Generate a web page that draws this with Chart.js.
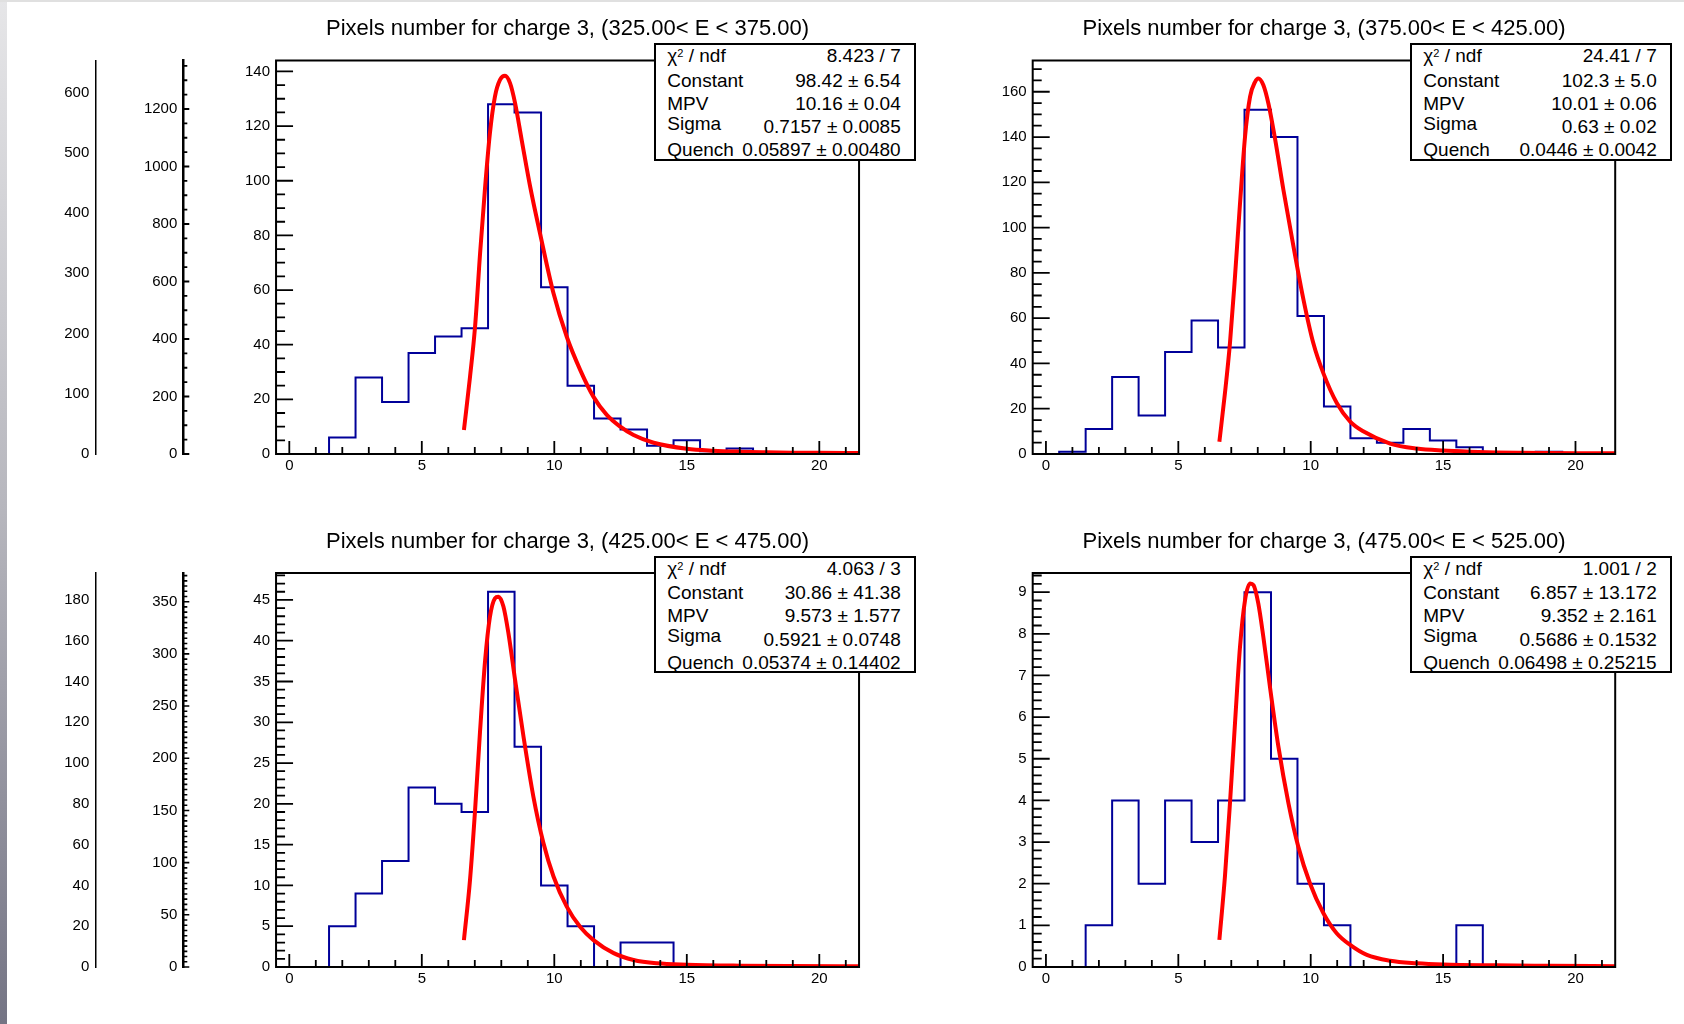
<!DOCTYPE html>
<html>
<head>
<meta charset="utf-8">
<script src="https://cdn.jsdelivr.net/npm/chart.js@4.4.1/dist/chart.umd.min.js"></script>
<style>
html,body{margin:0;padding:0;background:#fff;width:1684px;height:1024px;overflow:hidden;font-family:"Liberation Sans",Arial,sans-serif;color:#000;}
canvas{position:absolute;}
.strip-left{position:absolute;left:0;top:0;width:7px;height:1024px;background:linear-gradient(#e6e6e8,#b6b6bd 50%,#747484);z-index:3;}
.strip-top{position:absolute;left:0;top:0;width:1684px;height:2px;background:#e0e0e0;z-index:3;}
.title{position:absolute;font-size:22px;line-height:22px;white-space:nowrap;transform:translateX(-50%);z-index:4;}
.stats{position:absolute;box-sizing:border-box;width:262px;height:117.4px;border:2px solid #000;background:#fff;z-index:5;font-size:19px;}
.stats div{position:absolute;line-height:19px;white-space:nowrap;}
.stats .l{left:11.3px;}
.stats .v{right:13.3px;}
.stats sup{font-size:11px;position:relative;top:-2px;vertical-align:top;}
</style>
</head>
<body>
<div class="strip-left"></div>
<div class="strip-top"></div>

<canvas id="axA" width="130" height="470" style="left:0;top:0"></canvas>
<canvas id="axB" width="120" height="470" style="left:100px;top:0"></canvas>
<canvas id="axC" width="130" height="470" style="left:0;top:512px"></canvas>
<canvas id="axD" width="120" height="470" style="left:100px;top:512px"></canvas>

<canvas id="p1" width="700" height="500" style="left:190px;top:0"></canvas>
<canvas id="p2" width="700" height="500" style="left:945px;top:0"></canvas>
<canvas id="p3" width="700" height="500" style="left:190px;top:512px"></canvas>
<canvas id="p4" width="700" height="500" style="left:945px;top:512px"></canvas>

<div id="overlay"></div>

<script>
// ---------------- DATA ----------------
const binCenters = [0,1,2,3,4,5,6,7,8,9,10,11,12,13,14,15,16,17,18,19,20,21];
const xTickLabels = [0,5,10,15,20];

const counts325 = [0,0,6,28,19,37,43,46,128,125,61,25,13,9,3,5,1,2,0,0,0,0];
const counts375 = [0,1,11,34,17,45,59,47,152,140,61,21,7,5,11,6,3,0,0,1,0,0];
const counts425 = [0,0,5,9,13,22,20,19,46,27,10,5,0,3,3,0,0,0,0,0,0,0];
const counts475 = [0,0,1,4,2,4,3,4,9,5,2,1,0,0,0,0,1,0,0,0,0,0];

// fit curves
const fit325X = [6.59,6.82,7.01,7.2,7.39,7.57,7.76,7.95,8.14,8.33,8.52,8.77,9.09,9.46,9.97,10.47,10.98,11.48,11.98,12.49,12.99,13.75,15,16,17,18,19,20,21.5];
const fit325Y = [8.8,28.3,46.6,73.5,97.8,117.4,130.8,136.9,138.4,135.7,128.4,114.9,97.8,80.8,58.8,42.9,30.7,20.9,14.3,10.0,6.95,4.1,1.9,1.2,0.85,0.65,0.5,0.42,0.35];
const fit375X = [6.55,6.76,6.95,7.14,7.33,7.52,7.71,7.9,8.02,8.21,8.4,8.66,8.97,9.35,9.73,10.1,10.48,10.99,11.49,12.0,13,14,15,16,17,18,19,20,21.5];
const fit375Y = [5.4,26.8,48.9,78.3,110.7,140.2,157.8,164.4,165.9,163,154.9,138.7,116.6,91.6,68,48.9,35.6,22.4,14.3,9.9,4.6,2.4,1.5,1.0,0.7,0.55,0.45,0.38,0.3];
const fit425X = [6.59,6.82,7.01,7.2,7.39,7.57,7.76,7.89,8.08,8.27,8.52,8.84,9.21,9.59,9.97,10.47,10.98,11.48,12.24,12.99,13.87,15,17,19,21.5];
const fit425Y = [3.3,10.7,19.2,29,37.6,42.9,45.2,45.4,44.2,40.9,35.2,28.2,20.9,15.2,11.1,7.4,4.9,3.3,1.7,0.86,0.45,0.28,0.16,0.11,0.08];
const fit475X = [6.55,6.76,6.95,7.14,7.33,7.52,7.71,7.84,8.02,8.21,8.46,8.78,9.16,9.53,9.97,10.48,10.98,11.49,12.12,13,14,15,17,19,21.5];
const fit475Y = [0.65,2.17,3.93,5.85,7.69,8.81,9.21,9.17,8.73,7.93,6.73,5.29,3.93,2.89,2.01,1.29,0.81,0.53,0.29,0.15,0.09,0.06,0.04,0.03,0.02];

const yTicks325 = [0,20,40,60,80,100,120,140];
const yTicks375 = [0,20,40,60,80,100,120,140,160];
const yTicks425 = [0,5,10,15,20,25,30,35,40,45];
const yTicks475 = [0,1,2,3,4,5,6,7,8,9];

const axATicks = [0,100,200,300,400,500,600];
const axBTicks = [0,200,400,600,800,1000,1200];
const axCTicks = [0,20,40,60,80,100,120,140,160,180];
const axDTicks = [0,50,100,150,200,250,300,350];

const titles = [
  'Pixels number for charge 3, (325.00< E < 375.00)',
  'Pixels number for charge 3, (375.00< E < 425.00)',
  'Pixels number for charge 3, (425.00< E < 475.00)',
  'Pixels number for charge 3, (475.00< E < 525.00)'
];
const statNames = ['χ<sup>2</sup> / ndf','Constant','MPV','Sigma','Quench'];
const stats325 = ['8.423 / 7','98.42 ± 6.54','10.16 ± 0.04','0.7157 ± 0.0085','0.05897 ± 0.00480'];
const stats375 = ['24.41 / 7','102.3 ± 5.0','10.01 ± 0.06','0.63 ± 0.02','0.0446 ± 0.0042'];
const stats425 = ['4.063 / 3','30.86 ± 41.38','9.573 ± 1.577','0.5921 ± 0.0748','0.05374 ± 0.14402'];
const stats475 = ['1.001 / 2','6.857 ± 13.172','9.352 ± 2.161','0.5686 ± 0.1532','0.06498 ± 0.25215'];

// ---------------- RENDERING ----------------
const FONT = '"Liberation Sans", Arial, sans-serif';
const plainLabel = v => String(v);

function rootTicks(cfg){
  return {
    id:'rootTicks',
    afterDatasetsDraw(chart){
      const ctx = chart.ctx, a = chart.chartArea;
      ctx.save();
      ctx.strokeStyle = '#000';
      ctx.lineCap = 'butt';
      if (cfg.frame){
        ctx.lineWidth = cfg.frame;
        ctx.strokeRect(a.left, a.top, a.right - a.left, a.bottom - a.top);
      }
      if (cfg.y){
        const s = chart.scales.y, c = cfg.y;
        ctx.lineWidth = c.w;
        ctx.beginPath();
        const n = Math.floor(s.max / c.minor + 1e-6);
        for (let k = 0; k <= n; k++){
          const v = k * c.minor, r = v / c.major;
          const big = Math.abs(r - Math.round(r)) < 1e-6;
          const p = s.getPixelForValue(v);
          ctx.moveTo(a.left, p); ctx.lineTo(a.left + (big ? c.big : c.small), p);
        }
        ctx.stroke();
      }
      if (cfg.x){
        const s = chart.scales.x, c = cfg.x;
        ctx.lineWidth = c.w;
        ctx.beginPath();
        for (let v = Math.ceil(s.min); v <= s.max + 1e-9; v += c.minor){
          const r = v / c.major;
          const big = Math.abs(r - Math.round(r)) < 1e-6;
          const p = s.getPixelForValue(v);
          ctx.moveTo(p, a.bottom); ctx.lineTo(p, a.bottom - (big ? c.big : c.small));
        }
        ctx.stroke();
      }
      ctx.restore();
    }
  };
}

function makePanel(id, counts, fx, fy, yMax, yTicks, yMajor, yMinor, yWidth, padRight, padTop, xHeight){
  const fitData = fx.map((x,i)=>({x:x, y:fy[i]}));
  const histData = binCenters.map((x,i)=>({x:x, y:counts[i]}));
  new Chart(document.getElementById(id), {
    type:'line',
    data:{datasets:[
      {data:fitData, borderColor:'#ff0000', borderWidth:4, pointRadius:0, cubicInterpolationMode:'monotone', fill:false, order:0},
      {data:histData, borderColor:'#000099', borderWidth:2, pointRadius:0, stepped:'middle', fill:false, order:1}
    ]},
    options:{
      responsive:false, animation:false, events:[],
      layout:{padding:{top:padTop, right:padRight, left:0, bottom:0}},
      plugins:{legend:{display:false}, title:{display:false}, tooltip:{enabled:false}},
      scales:{
        x:{type:'linear', min:-0.5, max:21.5,
           afterBuildTicks:s=>{s.ticks = xTickLabels.map(v=>({value:v}));},
           afterFit:s=>{s.height = xHeight;},
           grid:{display:false, drawTicks:false, tickLength:0}, border:{display:false},
           ticks:{font:{family:FONT, size:15}, color:'#000', padding:3, maxRotation:0, autoSkip:false, callback:plainLabel}},
        y:{type:'linear', min:0, max:yMax,
           afterBuildTicks:s=>{s.ticks = yTicks.map(v=>({value:v}));},
           afterFit:s=>{s.width = yWidth;},
           grid:{display:false, drawTicks:false, tickLength:0}, border:{display:false},
           ticks:{font:{family:FONT, size:15}, color:'#000', padding:6, autoSkip:false, callback:plainLabel}}
      }
    },
    plugins:[rootTicks({frame:2,
      y:{major:yMajor, minor:yMinor, big:17, small:9, w:1.8},
      x:{major:5, minor:1, big:13, small:7, w:1.8}})]
  });
}

function makeAxis(id, yMax, ticks, yWidth, padTop, padBottom, lineW, tickCfg){
  new Chart(document.getElementById(id), {
    type:'line',
    data:{datasets:[]},
    options:{
      responsive:false, animation:false, events:[],
      layout:{padding:{top:padTop, bottom:padBottom, left:0, right:0}},
      plugins:{legend:{display:false}, title:{display:false}, tooltip:{enabled:false}},
      scales:{
        x:{type:'linear', display:false, min:0, max:1},
        y:{type:'linear', min:0, max:yMax,
           afterBuildTicks:s=>{s.ticks = ticks.map(v=>({value:v}));},
           afterFit:s=>{s.width = yWidth;},
           grid:{display:true, drawOnChartArea:false, drawTicks:false, tickLength:0},
           border:{display:true, color:'#000', width:lineW},
           ticks:{font:{family:FONT, size:15}, color:'#000', padding:6, autoSkip:false, callback:plainLabel}}
      }
    },
    plugins: tickCfg ? [rootTicks({y:tickCfg})] : []
  });
}

// orphan axes on the left
makeAxis('axA', 653.5, axATicks, 95.3, 60.5, 16, 1.5, null);
makeAxis('axB', 1368.7, axBTicks, 83.3, 60.5, 16, 2.5, {major:200, minor:50, big:6, small:4, w:1.8});
makeAxis('axC', 193.2, axCTicks, 95.3, 61, 15, 1.5, null);
makeAxis('axD', 377.5, axDTicks, 83.3, 61, 15, 2.5, {major:50, minor:5, big:6, small:4, w:1.6});

// panels
makePanel('p1', counts325, fit325X, fit325Y, 144.0, yTicks325, 20, 5, 86.05, 30.95, 60.5, 46);
makePanel('p2', counts375, fit375X, fit375Y, 173.8, yTicks375, 20, 5, 87.7, 29.8, 60.5, 46);
makePanel('p3', counts425, fit425X, fit425Y, 48.3, yTicks425, 5, 1, 86.05, 30.95, 61, 45);
makePanel('p4', counts475, fit475X, fit475Y, 9.46, yTicks475, 1, 0.2, 87.7, 29.8, 61, 45);

// titles and stats boxes (real text)
const overlay = document.getElementById('overlay');
const panelGeo = [
  {cx:567.5, ty:17.4, bx:654, by:43.3, s:stats325},
  {cx:1324, ty:17.4, bx:1410, by:43.3, s:stats375},
  {cx:567.5, ty:529.9, bx:654, by:555.8, s:stats425},
  {cx:1324, ty:529.9, bx:1410, by:555.8, s:stats475}
];
const labelTops = [0.9,25.3,48.6,68.6,95.2];
const valueTops = [0.9,25.3,48.6,71.9,95.2];
panelGeo.forEach((g,i)=>{
  const t = document.createElement('div');
  t.className = 'title';
  t.style.left = g.cx + 'px';
  t.style.top = g.ty + 'px';
  t.textContent = titles[i];
  overlay.appendChild(t);
  const b = document.createElement('div');
  b.className = 'stats';
  b.style.left = g.bx + 'px';
  b.style.top = g.by + 'px';
  let html = '';
  for (let r = 0; r < 5; r++){
    html += '<div class="l" style="top:'+labelTops[r]+'px">'+statNames[r]+'</div>';
    html += '<div class="v" style="top:'+valueTops[r]+'px">'+g.s[r]+'</div>';
  }
  b.innerHTML = html;
  overlay.appendChild(b);
});
</script>
</body>
</html>
